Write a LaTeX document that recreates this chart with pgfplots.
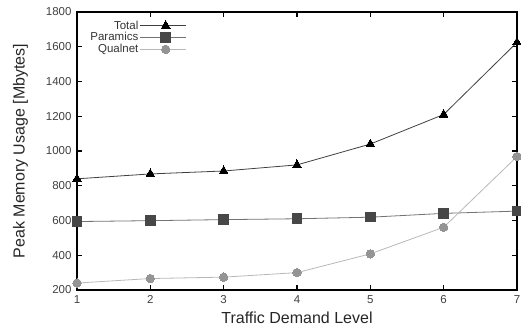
\documentclass[border=0pt]{standalone}
\usepackage{fontspec}
\setmainfont{Liberation Sans}
\usepackage{pgfplots}
\pgfplotsset{compat=1.18}
\begin{document}
\begin{tikzpicture}
\useasboundingbox (-77bp,-39bp) rectangle (444bp,290bp);
\begin{axis}[
  at={(0,0)}, anchor=origin,
  scale only axis, width=440bp, height=278bp,
  xmin=1, xmax=7, ymin=200, ymax=1800,
  xtick={1,2,3,4,5,6,7},
  ytick={200,400,600,800,1000,1200,1400,1600,1800},
  /pgf/number format/assume math mode=true,
  /pgf/number format/1000 sep={},
  tick align=inside,
  major tick length=5bp,
  axis line style={line width=1.5bp},
  every tick/.style={black, line width=1.2bp},
  ticklabel style={font=\fontsize{11.5bp}{13bp}\selectfont, text=black!75},
  xticklabel style={yshift=-2bp},
  yticklabel style={xshift=-2bp},
  xlabel={Traffic Demand Level},
  ylabel={Peak Memory Usage [Mbytes]},
  label style={font=\fontsize{16bp}{18bp}\selectfont, text=black!85},
  xlabel style={yshift=-1bp},
  ylabel style={yshift=11bp},
  legend plot pos=right,
  legend cell align=right,
  legend style={draw=none, fill=none, at={(rel axis cs:0.021,0.98)}, anchor=north west,
    font=\fontsize{11.5bp}{12bp}\selectfont, text=black!80,
    row sep=0bp, nodes={inner sep=1bp}},
  legend image code/.code={\path (0bp,0bp) -- (46bp,0bp);\draw[mark repeat=2,mark phase=2] plot coordinates {(6bp,0bp)(26bp,0bp)(46bp,0bp)};},
]
\addplot[color=black!75, line width=0.8bp, mark=triangle*, mark size=5bp, mark options={fill=black, draw=black, line width=0pt}]
  coordinates {(1,840) (2,868) (3,885) (4,920) (5,1040) (6,1210) (7,1625)};
\addlegendentry{Total}
\addplot[color=black!55, line width=0.8bp, mark=square*, mark size=4.8bp, mark options={fill=black!72, draw=black!72, line width=0pt}]
  coordinates {(1,594) (2,599) (3,605) (4,610) (5,619) (6,641) (7,654)};
\addlegendentry{Paramics}
\addplot[color=black!28, line width=0.8bp, mark=*, mark size=4.2bp, mark options={fill=black!42, draw=black!42, line width=0pt}]
  coordinates {(1,240) (2,266) (3,274) (4,300) (5,408) (6,561) (7,968)};
\addlegendentry{Qualnet}
\end{axis}
\end{tikzpicture}
\end{document}
